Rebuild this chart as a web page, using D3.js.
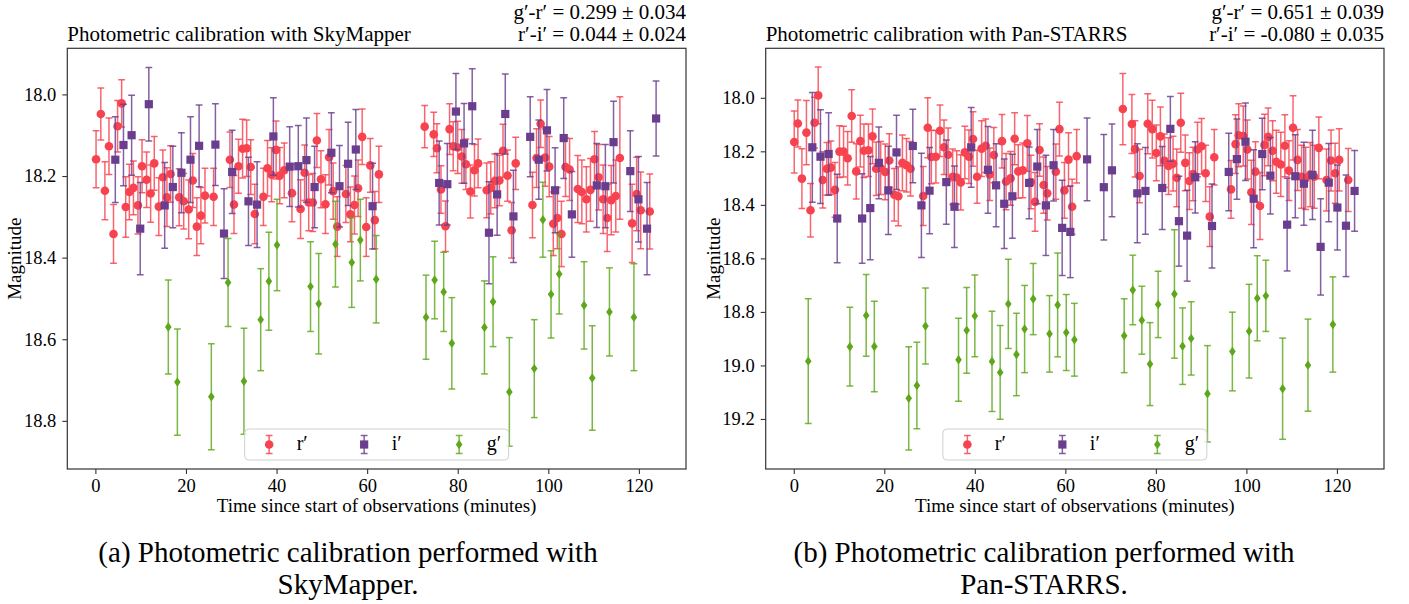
<!DOCTYPE html>
<html>
<head>
<meta charset="utf-8">
<script src="https://cdn.jsdelivr.net/npm/d3@7"></script>
<style>
  body { margin: 0; background: #fff; }
  text { font-family: "Liberation Serif", "Times New Roman", serif; fill: #000; }
</style>
</head>
<body>
<svg id="fig" width="1409" height="604"></svg>
<script>
'use strict'

// ---- data (time in minutes, magnitude, 1-sigma error) ----
var xTicks = [0, 20, 40, 60, 80, 100, 120]
var yTicksSky = [18.0, 18.2, 18.4, 18.6, 18.8]
var yTicksPan = [18.0, 18.2, 18.4, 18.6, 18.8, 19.0, 19.2]
var bandNames = ["r\u2032", "i\u2032", "g\u2032"]

// SkyMapper r'
var skyRTime = [0.15,1.2,2.1,3.0,4.0,4.9,5.8,6.7,7.5,8.4,9.4,10.3,11.3,12.2,13.0,14.0,14.9,15.8,16.6,18.5,19.5,20.6,21.5,22.4,23.3,24.2,26.1,29.7,30.6,31.6,32.5,33.4,34.3,35.2,37.1,38.0,38.9,39.9,40.7,41.7,43.4,45.3,46.2,47.1,48.0,48.9,49.8,50.8,51.6,52.5,53.4,55.3,56.3,57.2,58.0,58.9,59.8,60.7,61.7,62.6,
  72.7,74.7,75.4,76.3,77.3,78.2,79.0,80.0,80.9,81.8,82.8,83.7,84.5,86.4,87.3,88.2,89.2,90.0,91.0,91.9,92.8,96.5,97.4,98.3,99.3,100.2,101.1,102.0,102.9,103.8,104.7,106.5,107.4,108.4,109.3,110.2,111.1,112.1,113.0,113.9,114.9,115.8,118.5,119.5,120.4,122.4]
var skyRMag = [18.159,18.048,18.236,18.127,18.342,18.078,18.022,18.276,18.239,18.229,18.272,18.176,18.209,18.243,18.169,18.275,18.203,18.252,18.195,18.252,18.262,18.282,18.211,18.324,18.297,18.248,18.251,18.160,18.270,18.176,18.133,18.132,18.178,18.293,18.251,18.181,18.197,18.136,18.199,18.186,18.242,18.281,18.192,18.265,18.265,18.113,18.208,18.269,18.154,18.237,18.324,18.244,18.294,18.271,18.230,18.104,18.325,18.174,18.308,18.196,
  18.079,18.098,18.132,18.233,18.323,18.085,18.127,18.130,18.152,18.171,18.238,18.186,18.169,18.235,18.229,18.212,18.211,18.138,18.199,18.333,18.169,18.271,18.156,18.072,18.155,18.177,18.317,18.303,18.342,18.178,18.184,18.232,18.239,18.257,18.234,18.159,18.203,18.257,18.303,18.259,18.249,18.156,18.316,18.244,18.284,18.287]
var skyRErr = [.070,.064,.071,.069,.072,.063,.058,.074,.068,.066,.070,.065,.068,.070,.066,.071,.067,.072,.069,.070,.068,.072,.066,.071,.069,.067,.070,.068,.071,.066,.072,.069,.067,.073,.070,.068,.066,.071,.069,.067,.070,.072,.068,.069,.071,.066,.070,.072,.068,.069,.073,.070,.067,.071,.069,.068,.072,.066,.070,.069,
  .052,.054,.060,.058,.062,.062,.060,.064,.066,.062,.065,.063,.060,.067,.064,.066,.062,.065,.063,.068,.064,.080,.072,.058,.070,.074,.078,.075,.080,.072,.076,.082,.078,.080,.077,.068,.080,.084,.082,.085,.088,.150,.096,.090,.094,.092]

// SkyMapper i'
var skyITime = [4.4,6.2,8.0,9.9,11.8,15.3,17.1,19.0,21.0,22.9,26.5,28.4,30.2,33.8,35.7,39.3,42.9,44.8,46.6,48.4,52.1,53.9,55.8,57.5,61.2,75.9,77.7,79.6,81.4,83.2,86.9,88.7,90.5,92.3,96.0,97.9,99.7,101.5,103.4,105.2,110.7,112.6,114.4,118.1,119.9,121.8,123.8]
var skyIMag = [18.160,18.124,18.100,18.329,18.024,18.272,18.227,18.192,18.160,18.126,18.123,18.341,18.190,18.262,18.270,18.103,18.177,18.176,18.161,18.227,18.143,18.225,18.170,18.135,18.274,18.217,18.220,18.042,18.120,18.029,18.339,18.245,18.048,18.299,18.104,18.160,18.088,18.235,18.107,18.294,18.223,18.225,18.117,18.188,18.257,18.329,18.059]
var skyIErr = [.105,.100,.098,.113,.090,.105,.100,.098,.105,.100,.100,.110,.102,.108,.105,.095,.098,.100,.103,.100,.098,.100,.102,.098,.105,.103,.100,.093,.098,.092,.125,.100,.098,.113,.098,.097,.100,.104,.099,.105,.103,.102,.100,.099,.105,.113,.092]

// SkyMapper g'
var skyGTime = [16.1,18.1,25.6,29.3,32.8,36.5,38.3,40.1,47.5,49.3,53.0,56.6,58.5,62.0,73.0,74.9,76.9,78.7,85.9,87.8,91.4,96.9,98.8,100.6,102.4,107.9,109.7,113.5,118.9]
var skyGMag = [18.570,18.705,18.741,18.461,18.703,18.552,18.458,18.369,18.471,18.513,18.367,18.412,18.357,18.453,18.546,18.455,18.484,18.610,18.571,18.508,18.729,18.672,18.307,18.490,18.440,18.517,18.695,18.533,18.546]
var skyGErr = [.115,.130,.130,.108,.130,.125,.120,.112,.110,.123,.105,.110,.100,.107,.103,.095,.097,.112,.114,.110,.133,.120,.092,.107,.098,.107,.128,.108,.131]

// Pan-STARRS r'
var panRTime = [0.1,0.9,1.8,2.8,3.7,4.6,5.4,6.4,7.3,8.2,9.1,10.1,11.0,11.9,12.8,13.8,14.7,15.5,16.5,17.4,18.2,19.2,20.2,21.1,22.2,23.1,24.0,24.9,25.8,28.6,29.6,30.4,31.4,32.3,33.2,34.1,35.1,36.0,36.9,37.8,38.7,39.6,40.5,41.5,42.4,43.3,44.2,46.0,46.9,47.9,48.8,49.6,50.6,51.6,52.4,53.3,54.3,55.2,56.0,57.9,58.7,59.8,60.7,61.5,62.5,
  72.7,74.7,75.4,76.4,78.2,79.2,80.1,81.0,81.9,82.8,83.8,84.6,85.5,86.5,87.4,88.2,89.2,90.1,91.0,91.9,92.9,96.6,97.6,98.3,99.3,100.2,101.1,102.0,103.0,104.0,104.8,105.8,106.6,107.6,108.5,109.4,110.3,111.3,112.2,113.1,114.1,115.0,116.0,117.7,118.7,119.6,120.5,122.5]
var panRMag = [18.165,18.096,18.302,18.130,18.420,18.093,17.991,18.307,18.265,18.261,18.344,18.201,18.201,18.226,18.068,18.275,18.162,18.198,18.196,18.144,18.265,18.262,18.277,18.234,18.362,18.368,18.243,18.252,18.265,18.367,18.112,18.221,18.220,18.123,18.185,18.213,18.295,18.298,18.316,18.204,18.220,18.154,18.295,18.190,18.179,18.286,18.214,18.162,18.313,18.301,18.153,18.275,18.271,18.170,18.315,18.389,18.195,18.326,18.357,18.276,18.117,18.346,18.231,18.407,18.218,
  18.042,18.098,18.191,18.292,18.097,18.117,18.206,18.144,18.235,18.255,18.246,18.299,18.093,18.243,18.311,18.285,18.193,18.181,18.282,18.444,18.222,18.342,18.173,18.140,18.143,18.193,18.353,18.276,18.404,18.176,18.146,18.198,18.239,18.249,18.179,18.272,18.112,18.232,18.295,18.301,18.287,18.295,18.187,18.307,18.234,18.282,18.232,18.307]
var panRErr = [.116,.088,.112,.120,.100,.095,.106,.105,.098,.100,.102,.097,.095,.100,.098,.103,.097,.100,.098,.102,.100,.099,.104,.100,.098,.110,.104,.100,.102,.110,.112,.100,.098,.096,.102,.100,.104,.100,.103,.098,.100,.102,.099,.104,.100,.098,.103,.100,.105,.100,.097,.100,.102,.104,.100,.110,.098,.105,.100,.103,.100,.104,.100,.103,.100,
  .133,.110,.105,.100,.112,.108,.104,.110,.100,.106,.102,.108,.110,.104,.106,.100,.102,.104,.105,.112,.104,.108,.110,.118,.112,.110,.120,.112,.125,.115,.108,.112,.118,.120,.116,.112,.120,.114,.118,.116,.120,.118,.115,.116,.114,.112,.116,.118]

// Pan-STARRS i'
var panITime = [4.1,5.9,7.7,9.6,15.1,16.9,18.8,20.9,22.7,26.3,28.2,30.0,33.7,35.5,39.2,42.9,44.7,46.5,48.3,52.0,53.8,55.7,57.4,59.3,61.1,64.8,68.5,70.3,75.9,77.7,81.4,83.2,85.1,86.9,88.7,92.4,96.1,97.9,99.8,101.6,103.5,105.3,109.0,110.8,112.7,114.6,116.4,118.2,120.1,122.0,123.9]
var panIMag = [18.185,18.220,18.210,18.451,18.451,18.412,18.243,18.346,18.204,18.180,18.402,18.347,18.315,18.407,18.185,18.269,18.327,18.396,18.368,18.318,18.257,18.402,18.252,18.486,18.501,18.230,18.334,18.271,18.357,18.348,18.337,18.116,18.461,18.515,18.297,18.479,18.277,18.229,18.164,18.377,18.210,18.291,18.474,18.293,18.321,18.288,18.557,18.317,18.410,18.478,18.348]
var panIErr = [.205,.175,.154,.165,.167,.193,.134,.165,.139,.137,.195,.161,.157,.152,.149,.162,.155,.167,.157,.134,.139,.187,.134,.178,.171,.155,.197,.173,.185,.162,.155,.121,.168,.170,.133,.157,.145,.150,.145,.183,.134,.143,.173,.155,.155,.167,.180,.146,.159,.190,.151]

// Pan-STARRS g'
var panGTime = [3.2,12.4,16.0,17.8,25.4,27.2,29.1,36.4,38.2,40.0,43.8,45.6,47.4,49.2,51.0,52.9,56.5,58.3,60.2,62.0,73.0,74.9,76.9,78.7,80.5,84.1,85.9,87.8,91.4,96.9,100.6,102.4,104.3,108.0,113.6,119.1]
var panGMag = [18.984,18.930,18.813,18.929,19.123,19.075,18.853,18.979,18.869,18.815,18.985,19.026,18.770,18.959,18.864,18.752,18.882,18.774,18.877,18.904,18.889,18.718,18.831,18.995,18.772,18.733,18.928,18.899,19.106,18.948,18.872,18.749,18.740,19.087,18.999,18.847]
var panGErr = [.233,.147,.153,.169,.193,.162,.142,.155,.160,.153,.187,.175,.167,.154,.163,.133,.143,.194,.142,.136,.138,.130,.127,.155,.124,.240,.143,.137,.180,.147,.175,.159,.133,.189,.172,.178]

// ---- styling / layout ----
var colors = ["#f7434f", "#6a3d8f", "#5ea71b"]
var shapes = ["circle", "square", "diamond"]
var plotTop = 48.3, plotBottom = 469

var panels = [
  {
    x0: 67.3, x1: 686, yDom: [17.887, 18.918], yTicks: yTicksSky,
    title: "Photometric calibration with SkyMapper",
    ann: ["g\u2032-r\u2032 = 0.299 \u00b1 0.034", "r\u2032-i\u2032 = 0.044 \u00b1 0.024"],
    caption: ["(a) Photometric calibration performed with", "SkyMapper."], capX: 348,
    series: [[skyRTime, skyRMag, skyRErr], [skyITime, skyIMag, skyIErr], [skyGTime, skyGMag, skyGErr]]
  },
  {
    x0: 765.7, x1: 1384, yDom: [17.815, 19.387], yTicks: yTicksPan,
    title: "Photometric calibration with Pan-STARRS",
    ann: ["g\u2032-r\u2032 = 0.651 \u00b1 0.039", "r\u2032-i\u2032 = -0.080 \u00b1 0.035"],
    caption: ["(b) Photometric calibration performed with", "Pan-STARRS."], capX: 1044,
    series: [[panRTime, panRMag, panRErr], [panITime, panIMag, panIErr], [panGTime, panGMag, panGErr]]
  }
]

var svg = d3.select("#fig")

function marker(sel, shape, color){
  if(shape == "circle"){
    sel.append("circle").attr("r", 4.3).attr("fill", color)
  } else if(shape == "square"){
    sel.append("rect").attr("x", -4.1).attr("y", -4.1).attr("width", 8.2).attr("height", 8.2).attr("fill", color)
  } else {
    sel.append("path").attr("d", "M0,-4.7L3.3,0L0,4.7L-3.3,0Z").attr("fill", color)
  }
}

function errBar(sel, x, yLo, yHi, color){
  sel.append("line").attr("x1", x).attr("x2", x).attr("y1", yLo).attr("y2", yHi)
  sel.append("line").attr("x1", x - 3.4).attr("x2", x + 3.4).attr("y1", yLo).attr("y2", yLo)
  sel.append("line").attr("x1", x - 3.4).attr("x2", x + 3.4).attr("y1", yHi).attr("y2", yHi)
  sel.selectAll("line").attr("stroke", color).attr("stroke-width", 1.5).attr("stroke-opacity", 0.82)
}

panels.forEach(function(p, pi){
  var g = svg.append("g")
  var x = d3.scaleLinear().domain([-6.2, 130.4]).range([p.x0, p.x1])
  var y = d3.scaleLinear().domain(p.yDom).range([plotTop, plotBottom])

  g.append("clipPath").attr("id", "clip" + pi)
    .append("rect").attr("x", p.x0).attr("y", plotTop).attr("width", p.x1 - p.x0).attr("height", plotBottom - plotTop)

  // axes
  var xa = g.append("g").attr("transform", "translate(0," + plotBottom + ")")
    .call(d3.axisBottom(x).tickValues(xTicks).tickSize(5).tickPadding(5).tickFormat(d3.format("d")))
  var ya = g.append("g").attr("transform", "translate(" + p.x0 + ",0)")
    .call(d3.axisLeft(y).tickValues(p.yTicks).tickSize(5).tickPadding(6).tickFormat(d3.format(".1f")))
  ;[xa, ya].forEach(function(a){
    a.select(".domain").remove()
    a.selectAll(".tick line").attr("stroke", "#333").attr("stroke-width", 1.1)
    a.selectAll(".tick text").attr("font-family", "Liberation Serif").attr("font-size", 18.5).attr("fill", "#000")
  })

  // data
  var plot = g.append("g").attr("clip-path", "url(#clip" + pi + ")")
  p.series.forEach(function(s, si){
    var pts = s[0].map(function(t, i){ return {t: t, m: s[1][i], e: s[2][i]} })
    var sg = plot.append("g")
    var bars = sg.selectAll(".eb").data(pts).join("g").attr("class", "eb")
    bars.each(function(d){
      errBar(d3.select(this), x(d.t), y(d.m - d.e), y(d.m + d.e), colors[si])
    })
    var mk = sg.selectAll(".mk").data(pts).join("g").attr("class", "mk")
      .attr("transform", function(d){ return "translate(" + x(d.t) + "," + y(d.m) + ")" })
    mk.each(function(){ marker(d3.select(this), shapes[si], colors[si]) })
  })

  // frame
  g.append("rect").attr("x", p.x0).attr("y", plotTop).attr("width", p.x1 - p.x0).attr("height", plotBottom - plotTop)
    .attr("fill", "none").attr("stroke", "#333").attr("stroke-width", 1.2)

  // legend, lower centre
  var cx = (p.x0 + p.x1) / 2
  var lg = g.append("g").attr("transform", "translate(" + (cx - 132) + ",429)")
  lg.append("rect").attr("width", 264).attr("height", 31).attr("rx", 4)
    .attr("fill", "#fff").attr("fill-opacity", 0.8).attr("stroke", "#d0d0d0").attr("stroke-width", 1)
  bandNames.forEach(function(name, i){
    var e = lg.append("g").attr("transform", "translate(" + (24.5 + i * 95) + ",15.5)")
    errBar(e, 0, -9, 9, colors[i])
    marker(e, shapes[i], colors[i])
    lg.append("text").attr("x", 52 + i * 95).attr("y", 21).attr("font-size", 20).text(name)
  })

  // texts
  g.append("text").attr("x", p.x0).attr("y", 41).attr("font-size", 21).text(p.title)
  g.append("text").attr("x", p.x1).attr("y", 19).attr("font-size", 21).attr("text-anchor", "end").text(p.ann[0])
  g.append("text").attr("x", p.x1).attr("y", 41).attr("font-size", 21).attr("text-anchor", "end").text(p.ann[1])
  g.append("text").attr("x", cx).attr("y", 512).attr("font-size", 19).attr("text-anchor", "middle")
    .text("Time since start of observations (minutes)")
  g.append("text").attr("transform", "translate(" + (p.x0 - 46) + "," + ((plotTop + plotBottom) / 2) + ") rotate(-90)")
    .attr("font-size", 19).attr("text-anchor", "middle").text("Magnitude")
  g.append("text").attr("x", p.capX).attr("y", 562).attr("font-size", 29).attr("text-anchor", "middle").text(p.caption[0])
  g.append("text").attr("x", p.capX).attr("y", 594).attr("font-size", 29).attr("text-anchor", "middle").text(p.caption[1])
})
</script>
</body>
</html>
